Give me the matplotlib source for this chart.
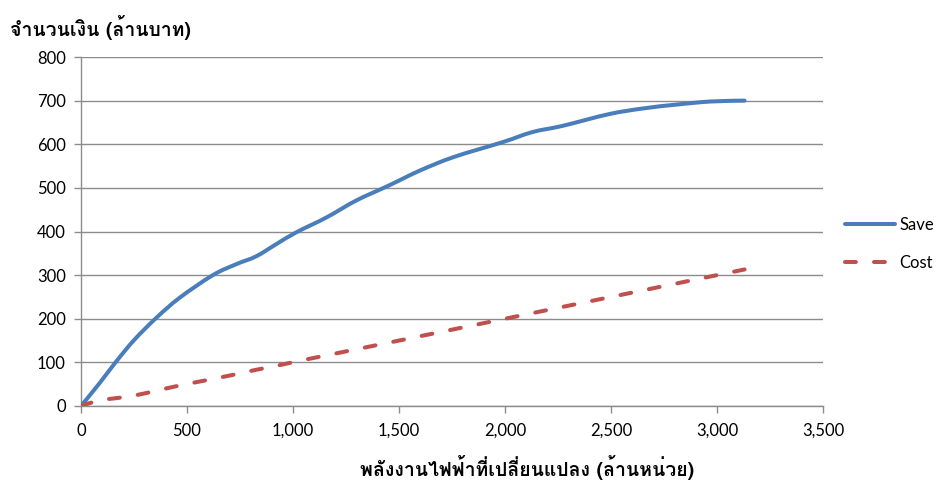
import matplotlib
matplotlib.use("Agg")
import matplotlib.pyplot as plt
from matplotlib import font_manager as fm
from matplotlib.ft2font import FT2Font
from matplotlib.lines import Line2D
from matplotlib.patches import PathPatch
from matplotlib.path import Path
from matplotlib.ticker import FuncFormatter, MultipleLocator

# Energy converted (million units) and the money figures (million baht)
energy = [0, 87, 166, 252, 355, 465, 622, 732, 826, 921, 1015, 1157, 1298,
          1450, 1600, 1760, 1990, 2130, 2270, 2490, 2650, 2810, 2970, 3130]
save = [0, 52, 102, 152, 202, 248, 300, 325, 343, 371, 398, 432, 471,
        505, 540, 571, 605, 628, 642, 669, 682, 691, 698, 700]
cost = [0, 13, 18, 24, 35, 47, 62, 73, 83, 92, 102, 116, 130,
        145, 160, 176, 199, 213, 227, 249, 265, 281, 297, 313]

series_names = ["Save", "Cost"]
y_title = "จำนวนเงิน (ล้านบาท)"
x_title = "พลังงานไฟฟ้าที่เปลี่ยนแปลง (ล้านหน่วย)"

SAVE_COLOR = "#4A7EBB"
COST_COLOR = "#C0504D"
GRID_COLOR = "#8c8c8c"
LINE_WIDTH = 2.9
COST_DASH = (0, (2.7, 4.5))


def family_covering(text):
    """Return the first installed font family that has every glyph in text."""
    needed = {ord(c) for c in text if not c.isspace()}
    for path in sorted(fm.findSystemFonts()):
        try:
            font = FT2Font(path)
            if needed <= set(font.get_charmap().keys()):
                return fm.FontProperties(fname=path).get_name()
        except Exception:
            continue
    return None


def smooth_path(xs, ys):
    """Bezier path through every point (Catmull-Rom style smoothed line)."""
    pts = list(zip(xs, ys))
    verts = [pts[0]]
    codes = [Path.MOVETO]
    n = len(pts)
    for i in range(n - 1):
        p0 = pts[i - 1] if i > 0 else pts[i]
        p1 = pts[i]
        p2 = pts[i + 1]
        p3 = pts[i + 2] if i + 2 < n else pts[i + 1]
        c1 = (p1[0] + (p2[0] - p0[0]) / 6, p1[1] + (p2[1] - p0[1]) / 6)
        c2 = (p2[0] - (p3[0] - p1[0]) / 6, p2[1] - (p3[1] - p1[1]) / 6)
        verts += [c1, c2, p2]
        codes += [Path.CURVE4] * 3
    return Path(verts, codes)


thai_family = family_covering(y_title + x_title)
label_families = ([thai_family] if thai_family else []) + ["DejaVu Sans"]

plt.rcParams["font.family"] = ["Lato", "DejaVu Sans"]

fig = plt.figure(figsize=(9.36, 4.82), dpi=100)
ax = fig.add_axes([81 / 936, 1 - 406 / 482, 742 / 936, 349 / 482])

ax.add_patch(PathPatch(smooth_path(energy, save), facecolor="none",
                       edgecolor=SAVE_COLOR, lw=LINE_WIDTH, capstyle="round",
                       joinstyle="round", zorder=3))
ax.add_patch(PathPatch(smooth_path(energy, cost), facecolor="none",
                       edgecolor=COST_COLOR, lw=LINE_WIDTH, linestyle=COST_DASH,
                       capstyle="round", joinstyle="round", zorder=3))

ax.set_xlim(0, 3500)
ax.set_ylim(0, 800)
ax.xaxis.set_major_locator(MultipleLocator(500))
ax.yaxis.set_major_locator(MultipleLocator(100))
ax.xaxis.set_major_formatter(FuncFormatter(lambda v, p: f"{int(v):,}"))

ax.grid(axis="y", color=GRID_COLOR, lw=1.0)
ax.set_axisbelow(True)
for side in ("top", "right"):
    ax.spines[side].set_visible(False)
for side in ("left", "bottom"):
    ax.spines[side].set_color(GRID_COLOR)
    ax.spines[side].set_linewidth(1.0)
ax.tick_params(axis="both", colors=GRID_COLOR, length=5, width=1.0,
               labelcolor="black", labelsize=12)
ax.tick_params(axis="x", pad=7)
ax.tick_params(axis="y", pad=6)

fig.text(10 / 936, 1 - 27 / 482, y_title, family=label_families,
         fontsize=14, fontweight="bold", ha="left", va="center")
fig.text(527 / 936, 1 - 468 / 482, x_title, family=label_families,
         fontsize=14, fontweight="bold", ha="center", va="center")

handles = [
    Line2D([], [], color=SAVE_COLOR, lw=LINE_WIDTH, solid_capstyle="round"),
    Line2D([], [], color=COST_COLOR, lw=LINE_WIDTH, linestyle=COST_DASH,
           dash_capstyle="round"),
]
ax.legend(handles, series_names, loc="center left",
          bbox_to_anchor=(845 / 936, 1 - 244 / 482),
          bbox_transform=fig.transFigure, frameon=False, borderpad=0,
          borderaxespad=0, handlelength=3.0, handletextpad=0.25,
          labelspacing=1.28, fontsize=12)

fig.savefig("out.png", dpi=100)
